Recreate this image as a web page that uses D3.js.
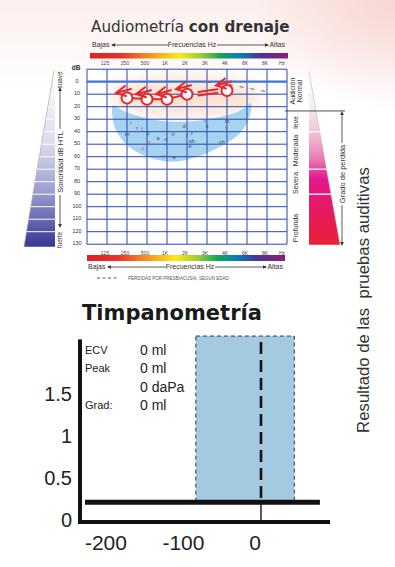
<!DOCTYPE html>
<html><head><meta charset="utf-8">
<script src="https://cdn.jsdelivr.net/npm/d3@7"></script>
<style>html,body{margin:0;padding:0;background:#fff;} svg{display:block;}</style>
</head><body>
<svg id="c" width="395" height="567"></svg>
<script>
// ---------- DATA ----------
const freqLabels = ["125","250","500","1K","2K","3K","4K","6K","8K"];
const dbTicks = [0,10,20,30,40,50,60,70,80,90,100,110,120,130];
const airFreqs = ["250","500","1K","2K","4K"];
const airDb = [13,14,14,10,7];
const presbyFreqs = ["3K","4K","6K","8K"];
const presbyDb = [0,2,5,8];
const bananaFreqPos = [0.3,0.25,0.4,1.0,2.0,3.3,4.5,5.65,6.65,7.1,7.2,6.95,6.55,5.4,3.9,2.4,0.9];
const bananaDb      = [19,22.6,37,50.6,60,64,60,52,41,29,17,20,24,29,32,30.6,24];
const phonemeText = ["l","z","j","m","p","a","o","n","d","l","r","sh","e","k","i","th","f","ch","o","u","o","a"];
const phonemePos  = [1.2,1.5,1.75,1.0,2.05,2.55,2.95,3.3,3.85,4.0,4.25,4.25,4.15,5.0,4.9,6.0,5.95,5.75,2.1,1.8,2.85,3.35];
const phonemeDb   = [33,37,38,42,41,45,46,42,35.5,43,41,47.5,51.5,35.5,31.5,31.5,37,48,48,53,59.5,60];
const phonemeRed  = [1,1,0,0,0,0,0,0,0,0,0,0,0,0,0,0,0,0,1,1,1,0];
const degreeNames = [["Audición","Normal"],["leve"],["Moderada"],["Severa"],["Profunda"]];
const degreeCenters = [7.5,32.5,55,81,117];
const degreeBounds = [40,70,90];
const normalLimit = 25;
const tympXTicks = [-200,-100,0];
const tympYTicks = [0,0.5,1,1.5];
const tympNormalRange = [-84,43];
const tympNormalTop = 2.19;
const tympCurvePressure = [-227,76];
const tympCurveAdmittance = [0.21,0.21];
const tympPeakPressure = 0;
const tympLabels = ["ECV","Peak","","Grad:"];
const tympValues = ["0 ml","0 ml","0 daPa","0 ml"];

// ---------- SETUP ----------
const svg = d3.select("#c");
const defs = svg.append("defs");
const SANS = "'Liberation Sans', Arial, sans-serif";
const VERD = "'DejaVu Sans', Verdana, sans-serif";

// background tints
const bg1 = defs.append("linearGradient").attr("id","bg1").attr("x1",0).attr("y1",0).attr("x2",0).attr("y2",1);
bg1.append("stop").attr("offset",0).attr("stop-color","#fcefec");
bg1.append("stop").attr("offset",1).attr("stop-color","#ffffff");
const bg2 = defs.append("radialGradient").attr("id","bg2").attr("cx",1).attr("cy",0).attr("r",1);
bg2.append("stop").attr("offset",0).attr("stop-color","#f7d6d3").attr("stop-opacity",1);
bg2.append("stop").attr("offset",1).attr("stop-color","#f7d6d3").attr("stop-opacity",0);
defs.append("filter").attr("id","blur").attr("x","-50%").attr("y","-50%").attr("width","200%").attr("height","200%")
  .append("feGaussianBlur").attr("stdDeviation",8);
svg.append("rect").attr("x",0).attr("y",0).attr("width",395).attr("height",90).attr("fill","url(#bg1)");
svg.append("rect").attr("x",250).attr("y",0).attr("width",145).attr("height",110).attr("fill","url(#bg2)");

// ---------- AUDIOGRAM ----------
const xA = d3.scaleLinear().domain([-1,9]).range([87,287]);
const yA = d3.scaleLinear().domain([-10,130]).range([69.2,244.2]);
const fx = f => xA(freqLabels.indexOf(f));

svg.append("rect").attr("x",xA(-1)).attr("y",yA(-10)).attr("width",xA(9)-xA(-1)).attr("height",yA(130)-yA(-10)).attr("fill","#fff");
svg.append("ellipse").attr("cx",xA(3.9)).attr("cy",yA(12)).attr("rx",75).attr("ry",20)
  .attr("fill","#fbe0cf").attr("filter","url(#blur)").attr("opacity",0.9);

// banana
svg.append("path")
  .attr("d", d3.line().x((d,i)=>xA(bananaFreqPos[i])).y((d,i)=>yA(bananaDb[i])).curve(d3.curveCatmullRomClosed.alpha(0.5))(bananaDb))
  .attr("fill","#a6d3f0");

// grid
const gridG = svg.append("g");
d3.range(-1,10).forEach(i=>{
  gridG.append("line").attr("x1",xA(i)).attr("x2",xA(i)).attr("y1",yA(-10)).attr("y2",yA(130))
    .attr("stroke","#2a48ad").attr("stroke-width",1);
});
[-10].concat(dbTicks).forEach(d=>{
  gridG.append("line").attr("x1",xA(-1)).attr("x2",xA(9)).attr("y1",yA(d)).attr("y2",yA(d))
    .attr("stroke", d===0 ? "#3f74d4" : "#2a48ad").attr("stroke-width", d===0 ? 2.2 : 1);
});

// phonemes
phonemeText.forEach((t,i)=>{
  svg.append("text").attr("x",xA(phonemePos[i])).attr("y",yA(phonemeDb[i])).attr("dy","0.35em")
    .attr("text-anchor","middle").attr("font-family",SANS).attr("font-size",5.5)
    .attr("fill", phonemeRed[i] ? "#d9527a" : "#4a4a5a").text(t);
});

// presbycusis dashed line
svg.append("path")
  .attr("d", d3.line().x((d,i)=>fx(presbyFreqs[i])).y(d=>yA(d))(presbyDb))
  .attr("fill","none").attr("stroke","#666").attr("stroke-width",1).attr("stroke-dasharray","4,7");

// air conduction symbols (red)
const red = "#e8262b";
const airG = svg.append("g").attr("stroke",red).attr("fill","none").attr("stroke-width",2).attr("stroke-linecap","round");
airDb.forEach((d,i)=>{
  if(i>0){
    const x0 = fx(airFreqs[i-1]), y0 = yA(airDb[i-1]), x1 = fx(airFreqs[i]), y1 = yA(d);
    const ang = Math.atan2(y1-y0,x1-x0), r=5.5;
    const ax = x0+Math.cos(ang)*r, ay=y0+Math.sin(ang)*r, bx=x1-Math.cos(ang)*r, by=y1-Math.sin(ang)*r;
    if(airFreqs[i]==="4K"){
      [-1.8,1.8].forEach(o=>airG.append("line").attr("x1",ax+6).attr("y1",ay+o).attr("x2",bx-4).attr("y2",by+o));
    } else {
      airG.append("line").attr("x1",ax).attr("y1",ay).attr("x2",bx).attr("y2",by);
    }
  }
});
airDb.forEach((d,i)=>{
  const cx = fx(airFreqs[i]), cy = yA(d);
  airG.append("circle").attr("cx",cx).attr("cy",cy).attr("r",5.5).attr("fill","#fff");
  airG.append("path").attr("d",`M${cx-2},${cy-12} L${cx-11},${cy-5} L${cx-1},${cy-2} M${cx-11},${cy-5} L${cx+4},${cy-9}`);
});

// dB labels
svg.append("text").attr("x",76).attr("y",yA(-10)).attr("dy","0.1em").attr("text-anchor","middle")
  .attr("font-family",SANS).attr("font-weight","bold").attr("font-size",6.5).attr("fill","#333").text("dB");
dbTicks.forEach(d=>{
  svg.append("text").attr("x",77).attr("y",yA(d)).attr("dy","0.2em").attr("text-anchor","middle")
    .attr("font-family",SANS).attr("font-size",5.5).attr("fill","#333").text(d);
});

// frequency labels top & bottom
[63,253].forEach(yy=>{
  freqLabels.forEach((f,i)=>{
    svg.append("text").attr("x",xA(i)-2).attr("y",yy).attr("dy","0.35em").attr("text-anchor","middle")
      .attr("font-family",SANS).attr("font-size",5).attr("fill","#444").text(f);
  });
  svg.append("text").attr("x",xA(9)-5).attr("y",yy).attr("dy","0.35em").attr("text-anchor","middle")
    .attr("font-family",SANS).attr("font-size",5).attr("fill","#444").text("Hz");
});

// spectrum bars
const spec = defs.append("linearGradient").attr("id","spec").attr("x1",0).attr("y1",0).attr("x2",1).attr("y2",0);
[[0,"#e31e26"],[0.16,"#e8332a"],[0.3,"#f39221"],[0.45,"#fde910"],[0.56,"#9ccc3c"],[0.66,"#10a55a"],[0.76,"#0a7cb5"],[0.86,"#4b3493"],[1,"#8e1d74"]]
  .forEach(s=>spec.append("stop").attr("offset",s[0]).attr("stop-color",s[1]));
svg.append("rect").attr("x",90).attr("y",53).attr("width",198).attr("height",5.5).attr("fill","url(#spec)");
svg.append("rect").attr("x",87).attr("y",255).attr("width",198).attr("height",6).attr("fill","url(#spec)");

// Bajas / Frecuencias / Altas rows
function freqRow(yy, x0, x1, midX){
  svg.append("text").attr("x",x0).attr("y",yy).attr("dy","0.35em").attr("font-family",SANS).attr("font-size",7).attr("fill","#333").text("Bajas");
  svg.append("text").attr("x",midX).attr("y",yy).attr("dy","0.35em").attr("text-anchor","middle").attr("font-family",SANS).attr("font-size",7).attr("fill","#333").text("Frecuencias Hz");
  svg.append("text").attr("x",x1).attr("y",yy).attr("dy","0.35em").attr("text-anchor","end").attr("font-family",SANS).attr("font-size",7).attr("fill","#333").text("Altas");
  svg.append("line").attr("x1",x0+20).attr("x2",midX-24).attr("y1",yy).attr("y2",yy).attr("stroke","#333").attr("stroke-width",0.8);
  svg.append("line").attr("x1",midX+25).attr("x2",x1-17).attr("y1",yy).attr("y2",yy).attr("stroke","#333").attr("stroke-width",0.8);
  svg.append("path").attr("d",`M${x0+19},${yy} l4,-1.8 l0,3.6 Z`).attr("fill","#333");
  svg.append("path").attr("d",`M${x1-16},${yy} l-4,-1.8 l0,3.6 Z`).attr("fill","#333");
}
freqRow(45, 92, 285, 192);
freqRow(267, 88, 283, 190);

// presbycusis legend
svg.append("line").attr("x1",97).attr("x2",118).attr("y1",278).attr("y2",278).attr("stroke","#444").attr("stroke-width",0.9).attr("stroke-dasharray","3,2.5");
svg.append("text").attr("x",128).attr("y",278).attr("dy","0.35em").attr("font-family",SANS).attr("font-size",4.5).attr("fill","#555")
  .text("PERDIDAS POR PRESBIACUSIA, SEGUN EDAD");

// title
const title = svg.append("text").attr("x",91).attr("y",32).attr("font-family",VERD).attr("font-size",15.2).attr("fill","#333");
title.append("tspan").text("Audiometría ");
title.append("tspan").attr("font-weight","bold").text("con drenaje");

// ---------- LEFT LOUDNESS TRIANGLE ----------
const lg = defs.append("linearGradient").attr("id","lg").attr("x1",0).attr("y1",0).attr("x2",0).attr("y2",1);
[[0,"#ffffff"],[0.41,"#dcdcef"],[0.69,"#9c9ccf"],[0.95,"#46469c"],[1,"#3a3a92"]].forEach(s=>lg.append("stop").attr("offset",s[0]).attr("stop-color",s[1]));
const ltTop = yA(-9), ltBot = yA(132);
const ltRight = 55, ltTopX = 54, ltBotX = 24;
svg.append("path").attr("d",`M${ltTopX},${ltTop} L${ltRight},${ltTop} L${ltRight},${ltBot} L${ltBotX},${ltBot} Z`).attr("fill","url(#lg)");
svg.append("line").attr("x1",ltTopX).attr("y1",ltTop).attr("x2",ltBotX).attr("y2",ltBot).attr("stroke","#aaa").attr("stroke-width",0.7);
const leftX = y => ltTopX + (ltBotX-ltTopX)*(y-ltTop)/(ltBot-ltTop);
dbTicks.filter(d=>d>=10 && d<=120).forEach(d=>{
  svg.append("line").attr("x1",leftX(yA(d))).attr("x2",ltRight).attr("y1",yA(d)).attr("y2",yA(d)).attr("stroke","#fff").attr("stroke-width",1);
});
function rtext(x,y,t,size){
  return svg.append("text").attr("transform",`translate(${x},${y}) rotate(-90)`).attr("text-anchor","middle").attr("dy","0.35em")
    .attr("font-family",SANS).attr("font-size",size).attr("fill","#333").text(t);
}
rtext(60,80,"suave",6.3);
rtext(60,162,"Sonoridad dB HTL",7.5);
rtext(60,240,"fuerte",6.3);
svg.append("line").attr("x1",60).attr("x2",60).attr("y1",90).attr("y2",129).attr("stroke","#333").attr("stroke-width",0.8);
svg.append("line").attr("x1",60).attr("x2",60).attr("y1",195).attr("y2",224).attr("stroke","#333").attr("stroke-width",0.8);
svg.append("path").attr("d","M60,87 l-1.8,4 l3.6,0 Z").attr("fill","#333");
svg.append("path").attr("d","M60,228 l-1.8,-4 l3.6,0 Z").attr("fill","#333");

// ---------- RIGHT DEGREE TRIANGLE ----------
const rg = defs.append("linearGradient").attr("id","rg").attr("x1",0).attr("y1",0).attr("x2",0).attr("y2",1);
[[0,"#ffffff"],[0.2,"#f8eef2"],[0.35,"#f0c4d8"],[0.5,"#ea7db6"],[0.62,"#e4168b"],[0.8,"#e61a62"],[1,"#ea1f35"]].forEach(s=>rg.append("stop").attr("offset",s[0]).attr("stop-color",s[1]));
const rtTop = yA(-8), rtBot = yA(130.5), rtLeft = 309, rtBotRight = 340;
svg.append("path").attr("d",`M${rtLeft},${rtTop} L${rtBotRight},${rtBot} L${rtLeft},${rtBot} Z`).attr("fill","url(#rg)");
svg.append("line").attr("x1",rtLeft).attr("y1",rtTop).attr("x2",rtBotRight).attr("y2",rtBot).attr("stroke","#bbb").attr("stroke-width",0.6);
const rightX = y => rtLeft + (rtBotRight-rtLeft)*(y-rtTop)/(rtBot-rtTop);
degreeBounds.forEach(d=>{
  svg.append("line").attr("x1",rtLeft).attr("x2",rightX(yA(d))).attr("y1",yA(d)).attr("y2",yA(d)).attr("stroke","#fff").attr("stroke-width",1.3);
});
svg.append("line").attr("x1",285).attr("x2",345).attr("y1",yA(normalLimit)-2).attr("y2",yA(normalLimit)-2).attr("stroke","#222").attr("stroke-width",0.8);
degreeNames.forEach((n,i)=>{
  if(n.length===2){
    rtext(293,yA(degreeCenters[i]),n[0],7);
    rtext(299.5,yA(degreeCenters[i]),n[1],7);
  } else rtext(296,yA(degreeCenters[i]),n[0],7);
});
rtext(342,174,"Grado de perdida",7.5);
svg.append("line").attr("x1",342).attr("x2",342).attr("y1",114).attr("y2",143).attr("stroke","#333").attr("stroke-width",0.8);
svg.append("line").attr("x1",342).attr("x2",342).attr("y1",205).attr("y2",242).attr("stroke","#333").attr("stroke-width",0.8);
svg.append("path").attr("d","M342,111 l-1.8,4 l3.6,0 Z").attr("fill","#333");
svg.append("path").attr("d","M342,246 l-1.8,-4 l3.6,0 Z").attr("fill","#333");

// big rotated label
svg.append("text").attr("transform","translate(363,300) rotate(-90)").attr("text-anchor","middle").attr("dy","0.35em")
  .attr("font-family",SANS).attr("font-size",16.8).attr("fill","#333")
  .style("white-space","pre").text("Resultado de las  pruebas auditivas");

// ---------- TYMPANOMETRY ----------
svg.append("text").attr("x",82).attr("y",320).attr("font-family",VERD).attr("font-weight","bold").attr("font-size",21).attr("fill","#1a1a1a").text("Timpanometría");

const xT = d3.scaleLinear().domain([-236,89]).range([78,330]);
const yT = d3.scaleLinear().domain([0,2.15]).range([520,339.4]);

// normal region
svg.append("rect").attr("x",xT(tympNormalRange[0])).attr("y",yT(tympNormalTop))
  .attr("width",xT(tympNormalRange[1])-xT(tympNormalRange[0])).attr("height",yT(tympCurveAdmittance[0])-yT(tympNormalTop))
  .attr("fill","#a3cae0").attr("stroke","#222").attr("stroke-width",0.9).attr("stroke-dasharray","4,3");

// peak pressure line
svg.append("line").attr("x1",xT(tympPeakPressure)).attr("x2",xT(tympPeakPressure)).attr("y1",yT(2.12)).attr("y2",yT(tympCurveAdmittance[0]))
  .attr("stroke","#111").attr("stroke-width",2.6).attr("stroke-dasharray","12,6");
svg.append("line").attr("x1",xT(tympPeakPressure)).attr("x2",xT(tympPeakPressure)).attr("y1",yT(tympCurveAdmittance[0])).attr("y2",yT(0))
  .attr("stroke","#111").attr("stroke-width",1.4);

// curve
svg.append("path").attr("d", d3.line().x((d,i)=>xT(tympCurvePressure[i])).y(d=>yT(d))(tympCurveAdmittance))
  .attr("stroke","#111").attr("stroke-width",5).attr("fill","none");

// axes
svg.append("line").attr("x1",xT(-236)).attr("x2",xT(89)).attr("y1",yT(0)+2).attr("y2",yT(0)+2).attr("stroke","#111").attr("stroke-width",4);
svg.append("line").attr("x1",80).attr("x2",80).attr("y1",yT(2.15)).attr("y2",yT(0)+4).attr("stroke","#111").attr("stroke-width",4);

tympYTicks.forEach(v=>{
  svg.append("text").attr("x",72).attr("y",yT(v)).attr("dy","0.35em").attr("text-anchor","end")
    .attr("font-family",SANS).attr("font-size",20).attr("fill","#222").text(v);
});
tympXTicks.forEach(v=>{
  svg.append("text").attr("x",xT(v) - (v===0 ? 6 : 0)).attr("y",543).attr("dy","0.35em").attr("text-anchor","middle")
    .attr("font-family",SANS).attr("font-size",21).attr("fill","#222").text(v);
});

// info
const rowY = d3.scaleLinear().domain([0,3]).range([350,405]);
tympLabels.forEach((t,i)=>{
  svg.append("text").attr("x",85).attr("y",rowY(i)).attr("dy","0.35em").attr("font-family",SANS).attr("font-size",11).attr("fill","#222").text(t);
});
tympValues.forEach((t,i)=>{
  svg.append("text").attr("x",140).attr("y",rowY(i)).attr("dy","0.35em").attr("font-family",SANS).attr("font-size",14).attr("fill","#222").text(t);
});
</script>
</body></html>
